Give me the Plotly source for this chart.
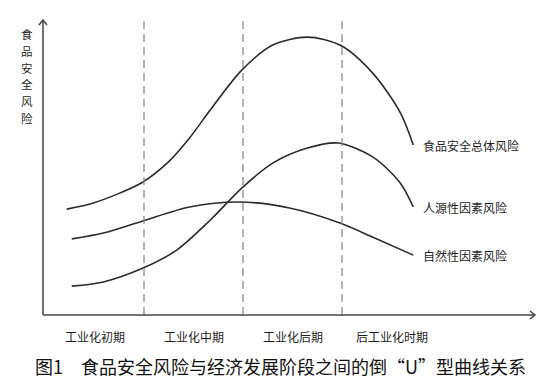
import plotly.graph_objects as go

# Development stages (x = stage index, boundaries at 1, 2, 3)
stage_labels = ["工业化初期", "工业化中期", "工业化后期", "后工业化时期"]
stage_centers = [0.5, 1.5, 2.5, 3.5]
stage_bounds = [1, 2, 3]

# Curves (risk level, arbitrary units)
total_x = [0.22, 0.49, 0.76, 0.99, 1.25, 1.46, 1.68, 1.99, 2.30, 2.65, 2.98, 3.31, 3.59, 3.72]
total_y = [35.9, 38.0, 41.4, 45.1, 52.0, 60.0, 70.0, 83.1, 91.5, 94.2, 91.5, 82.0, 68.5, 57.6]

human_x = [0.27, 0.59, 0.99, 1.33, 1.67, 1.99, 2.30, 2.65, 2.96, 3.31, 3.59, 3.72]
human_y = [9.8, 11.2, 15.9, 22.0, 32.2, 43.1, 51.5, 56.6, 58.3, 53.6, 44.7, 36.6]

natural_x = [0.27, 0.59, 0.99, 1.46, 1.97, 2.47, 2.98, 3.33, 3.72]
natural_y = [25.8, 27.8, 31.9, 36.6, 38.3, 36.3, 31.2, 26.1, 20.3]

series_names = ["食品安全总体风险", "人源性因素风险", "自然性因素风险"]
y_title = "食品安全风险"
caption = "图1　食品安全风险与经济发展阶段之间的倒“U”型曲线关系"

# page body has an 8px margin: the figure starts at screen pixel (8, 8)
OFF = 8
W, H = 559 - 2 * OFF, 387 - 2 * OFF
X0, XS = 45.0, 99.0          # screen pixel = X0 + XS * x
Y0, YS = 315.0, 2.95         # screen pixel = Y0 - YS * y

def dx(px):
    return (px - X0) / XS

def dy(py):
    return (Y0 - py) / YS

xr = [dx(OFF), dx(OFF + W)]
yr = [dy(OFF + H), dy(OFF)]

FONT = "Noto Sans CJK SC"
curve_col = "#2b2b2b"

fig = go.Figure()
for xs, ys in [(total_x, total_y), (human_x, human_y), (natural_x, natural_y)]:
    fig.add_trace(go.Scatter(x=xs, y=ys, mode="lines",
                             line=dict(color=curve_col, width=1.6, shape="spline", smoothing=0.85),
                             showlegend=False, hoverinfo="skip"))

shapes = []
for b in stage_bounds:
    shapes.append(dict(type="line", xref="x", yref="y", x0=b, x1=b, y0=dy(315), y1=dy(18),
                       line=dict(color="#8a8a8a", width=1.3, dash="8px,5px")))
axis_col = "#444444"
shapes.append(dict(type="line", xref="x", yref="y", x0=dx(43), x1=dx(43), y0=dy(315), y1=dy(21),
                   line=dict(color=axis_col, width=1.5)))
shapes.append(dict(type="line", xref="x", yref="y", x0=dx(43), x1=dx(534), y0=dy(315), y1=dy(315),
                   line=dict(color=axis_col, width=1.5)))
shapes.append(dict(type="path", xref="x", yref="y",
                   path=f"M {dx(39)},{dy(25)} L {dx(43)},{dy(20)} L {dx(47)},{dy(25)}",
                   line=dict(color=axis_col, width=1.5)))
shapes.append(dict(type="path", xref="x", yref="y",
                   path=f"M {dx(530)},{dy(311)} L {dx(535)},{dy(315)} L {dx(530)},{dy(319)}",
                   line=dict(color=axis_col, width=1.5)))

annotations = []
for lab, c in zip(stage_labels, stage_centers):
    annotations.append(dict(x=c, y=dy(336), xref="x", yref="y", text=lab, showarrow=False,
                            font=dict(family=FONT, size=12, color="#1e1e1e"),
                            xanchor="center", yanchor="middle"))
for name, xs, ys in [(series_names[0], total_x, total_y), (series_names[1], human_x, human_y),
                     (series_names[2], natural_x, natural_y)]:
    annotations.append(dict(x=dx(421), y=ys[-1], xref="x", yref="y", text=name, showarrow=False,
                            font=dict(family=FONT, size=12, color="#1e1e1e"),
                            xanchor="left", yanchor="middle"))
for i, ch in enumerate(y_title):
    annotations.append(dict(x=dx(27), y=dy(34 + 16.8 * i), xref="x", yref="y", text=ch,
                            showarrow=False, font=dict(family=FONT, size=11.5, color="#1e1e1e"),
                            borderpad=0, borderwidth=0,
                            xanchor="center", yanchor="middle"))
annotations.append(dict(x=dx(280), y=dy(366), xref="x", yref="y", text=caption, showarrow=False,
                        font=dict(family=FONT, size=18, color="#111111"),
                        xanchor="center", yanchor="middle"))

fig.update_layout(
    width=W, height=H, autosize=False,
    margin=dict(l=0, r=0, t=0, b=0),
    paper_bgcolor="white", plot_bgcolor="white",
    xaxis=dict(range=xr, visible=False, fixedrange=True),
    yaxis=dict(range=yr, visible=False, fixedrange=True),
    shapes=shapes, annotations=annotations,
)
fig.write_html("out.html")
